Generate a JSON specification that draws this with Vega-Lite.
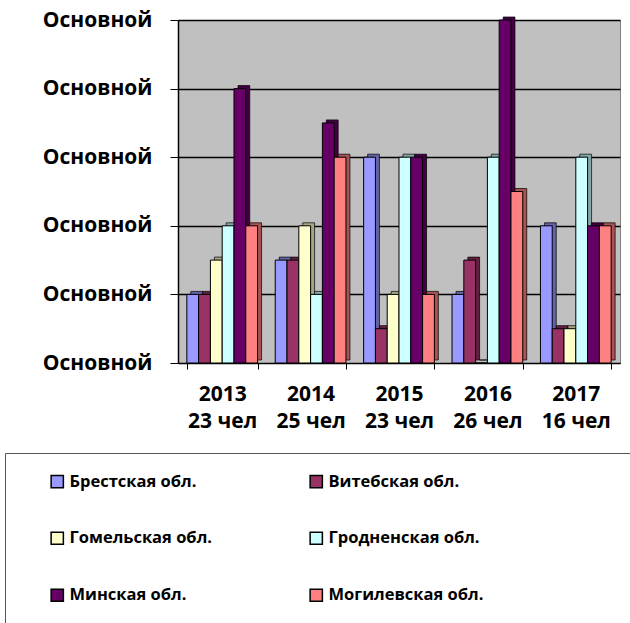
{
  "$schema": "https://vega.github.io/schema/vega-lite/v6.json",
  "width": 442,
  "height": 343,
  "autosize": "none",
  "padding": {"left": 178, "top": 20, "right": 10, "bottom": 260},
  "background": "white",
  "config": {
    "view": {"fill": "#C0C0C0", "stroke": "#808080"},
    "font": "Open Sans"
  },
  "data": {
    "values": [
      {"year": "2013|23 чел", "region": "Брестская обл.", "value": 2},
      {"year": "2013|23 чел", "region": "Витебская обл.", "value": 2},
      {"year": "2013|23 чел", "region": "Гомельская обл.", "value": 3},
      {"year": "2013|23 чел", "region": "Гродненская обл.", "value": 4},
      {"year": "2013|23 чел", "region": "Минская обл.", "value": 8},
      {"year": "2013|23 чел", "region": "Могилевская обл.", "value": 4},
      {"year": "2014|25 чел", "region": "Брестская обл.", "value": 3},
      {"year": "2014|25 чел", "region": "Витебская обл.", "value": 3},
      {"year": "2014|25 чел", "region": "Гомельская обл.", "value": 4},
      {"year": "2014|25 чел", "region": "Гродненская обл.", "value": 2},
      {"year": "2014|25 чел", "region": "Минская обл.", "value": 7},
      {"year": "2014|25 чел", "region": "Могилевская обл.", "value": 6},
      {"year": "2015|23 чел", "region": "Брестская обл.", "value": 6},
      {"year": "2015|23 чел", "region": "Витебская обл.", "value": 1},
      {"year": "2015|23 чел", "region": "Гомельская обл.", "value": 2},
      {"year": "2015|23 чел", "region": "Гродненская обл.", "value": 6},
      {"year": "2015|23 чел", "region": "Минская обл.", "value": 6},
      {"year": "2015|23 чел", "region": "Могилевская обл.", "value": 2},
      {"year": "2016|26 чел", "region": "Брестская обл.", "value": 2},
      {"year": "2016|26 чел", "region": "Витебская обл.", "value": 3},
      {"year": "2016|26 чел", "region": "Гомельская обл.", "value": 0},
      {"year": "2016|26 чел", "region": "Гродненская обл.", "value": 6},
      {"year": "2016|26 чел", "region": "Минская обл.", "value": 10},
      {"year": "2016|26 чел", "region": "Могилевская обл.", "value": 5},
      {"year": "2017|16 чел", "region": "Брестская обл.", "value": 4},
      {"year": "2017|16 чел", "region": "Витебская обл.", "value": 1},
      {"year": "2017|16 чел", "region": "Гомельская обл.", "value": 1},
      {"year": "2017|16 чел", "region": "Гродненская обл.", "value": 6},
      {"year": "2017|16 чел", "region": "Минская обл.", "value": 4},
      {"year": "2017|16 чел", "region": "Могилевская обл.", "value": 4}
    ]
  },
  "encoding": {
    "x": {
      "field": "year",
      "type": "nominal",
      "scale": {"paddingInner": 0.2, "paddingOuter": 0.1},
      "axis": {
        "title": null,
        "labelAngle": 0,
        "labelExpr": "split(datum.label, '|')",
        "labelFont": "Open Sans",
        "labelFontWeight": "bold",
        "labelFontSize": 21,
        "labelColor": "black",
        "labelLineHeight": 27,
        "labelPadding": 14,
        "tickBand": "extent",
        "tickColor": "black",
        "tickSize": 6,
        "domainColor": "black"
      }
    },
    "y": {
      "field": "value",
      "type": "quantitative",
      "scale": {"domain": [0, 10], "nice": false},
      "axis": {
        "title": null,
        "values": [0, 2, 4, 6, 8, 10],
        "labelExpr": "'Основной'",
        "labelFont": "Open Sans",
        "labelFontWeight": "bold",
        "labelFontSize": 21,
        "labelColor": "black",
        "labelPadding": 18,
        "tickColor": "black",
        "tickSize": 8,
        "gridColor": "black",
        "gridWidth": 1.5,
        "domainColor": "black",
        "domainWidth": 1.5
      }
    }
  },
  "layer": [
    {
      "mark": {"type": "bar", "stroke": "black", "strokeWidth": 0.7, "yOffset": -3},
      "encoding": {
        "xOffset": {
          "field": "region",
          "type": "nominal",
          "scale": {"domain": ["Брестская обл.", "Витебская обл.", "Гомельская обл.", "Гродненская обл.", "Минская обл.", "Могилевская обл."], "paddingInner": 0, "paddingOuter": 0, "range": [4, 74.7]}
        },
        "color": {
          "field": "region",
          "type": "nominal",
          "scale": {
            "domain": ["Брестская обл.", "Гомельская обл.", "Минская обл.", "Витебская обл.", "Гродненская обл.", "Могилевская обл."],
            "range": ["#9999FF", "#FFFFCC", "#660066", "#993366", "#CCFFFF", "#FF8080"]
          }
        }
      }
    },
    {
      "mark": {"type": "bar", "fill": "black", "opacity": 0.35, "yOffset": -3},
      "encoding": {
        "xOffset": {
          "field": "region",
          "type": "nominal",
          "scale": {"domain": ["Брестская обл.", "Витебская обл.", "Гомельская обл.", "Гродненская обл.", "Минская обл.", "Могилевская обл."], "paddingInner": 0, "paddingOuter": 0, "range": [4, 74.7]}
        }
      }
    },
    {
      "mark": {"type": "bar", "stroke": "black", "strokeWidth": 1},
      "encoding": {
        "xOffset": {
          "field": "region",
          "type": "nominal",
          "scale": {"domain": ["Брестская обл.", "Витебская обл.", "Гомельская обл.", "Гродненская обл.", "Минская обл.", "Могилевская обл."], "paddingInner": 0, "paddingOuter": 0}
        },
        "color": {
          "field": "region",
          "type": "nominal",
          "scale": {
            "domain": ["Брестская обл.", "Гомельская обл.", "Минская обл.", "Витебская обл.", "Гродненская обл.", "Могилевская обл."],
            "range": ["#9999FF", "#FFFFCC", "#660066", "#993366", "#CCFFFF", "#FF8080"]
          },
          "legend": {
            "orient": "none",
            "legendX": -173,
            "legendY": 433,
            "columns": 2,
            "title": " ",
            "titleOrient": "left",
            "titlePadding": 24,
            "padding": 20,
            "strokeColor": "#555555",
            "symbolType": "square",
            "symbolSize": 150,
            "symbolStrokeColor": "black",
            "symbolStrokeWidth": 1.5,
            "symbolOpacity": 1,
            "labelFont": "Open Sans",
            "labelFontWeight": "bold",
            "labelFontSize": 16.5,
            "labelColor": "black",
            "labelOffset": 4,
            "labelLimit": 800,
            "labelExpr": "indexof(['Витебская обл.', 'Гродненская обл.', 'Могилевская обл.'], datum.label) >= 0 ? datum.label + '\u00a0\u00a0\u00a0\u00a0\u00a0\u00a0\u00a0\u00a0\u00a0\u00a0\u00a0\u00a0\u00a0\u00a0\u00a0\u00a0\u00a0\u00a0\u00a0\u00a0\u00a0\u00a0\u00a0\u00a0\u00a0\u00a0\u00a0\u00a0\u00a0\u00a0\u00a0\u00a0\u00a0\u00a0\u00a0\u00a0\u00a0\u00a0\u00a0\u00a0\u2800' : datum.label",
            "columnPadding": 95,
            "rowPadding": 38,
            "gridAlign": "each"
          }
        }
      }
    }
  ],
  "resolve": {"scale": {"xOffset": "independent"}}
}
